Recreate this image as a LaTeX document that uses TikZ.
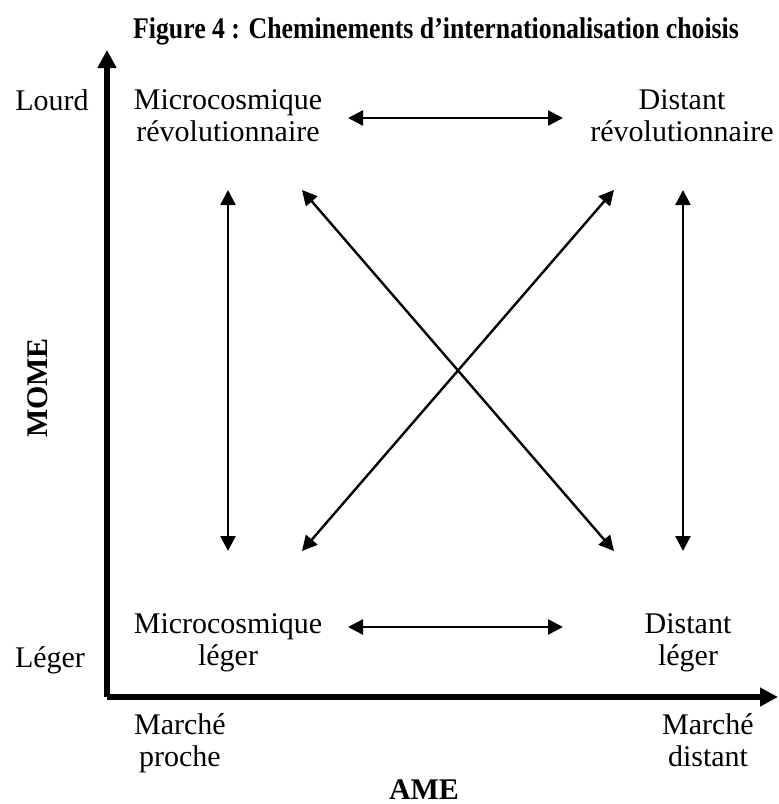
\documentclass[tikz,border=0pt]{standalone}
\usepackage{fontspec}
\setmainfont{Liberation Serif}
\usetikzlibrary{arrows.meta}

\tikzset{
  lab/.style={inner sep=0pt, align=center, font=\fontsize{15}{16}\selectfont},
  gras/.style={inner sep=0pt, font=\fontsize{15}{16}\selectfont\bfseries},
  axe/.style={line width=3pt, -{Triangle[length=9pt,width=9pt]}},
  lien/.style={line width=1.2pt, {Triangle[length=7.5pt,width=7.5pt]}-{Triangle[length=7.5pt,width=7.5pt]}}
}

\begin{document}
\begin{tikzpicture}[x=0.5pt, y=-0.5pt]
\useasboundingbox (0,0) rectangle (778,804);

\node[gras, xscale=0.86, transform shape] (titre) at (436,31) {Figure 4 : Cheminements d’internationalisation choisis};

% axes
\coordinate (o) at (107,697);
\coordinate (haut) at (107,50);
\coordinate (droite) at (778,697);
\draw[axe] (o) -- (haut);
\draw[axe] (o) -- (droite);

\node[lab] (lourd) at (52,100) {Lourd};
\node[lab] (leger) at (50,660) {Léger};
\node[gras, rotate=90] (mome) at (38,388) {MOME};

\node[lab] (mr) at (228,116) {Microcosmique\\révolutionnaire};
\node[lab] (dr) at (682,116) {Distant\\révolutionnaire};
\node[lab] (ml) at (228,643) {Microcosmique\\léger};
\node[lab] (dl) at (688,643) {Distant\\léger};

\node[lab, anchor=north] (mp) at (180,713) {Marché\\proche};
\node[lab, anchor=north] (md) at (708,713) {Marché\\distant};
\node[gras] (ame) at (424,790) {AME};

% extremites des fleches
\coordinate (a1) at (348,118);
\coordinate (a2) at (563,118);
\coordinate (a3) at (348,627);
\coordinate (a4) at (563,627);
\coordinate (b1) at (228,190);
\coordinate (b2) at (228,551);
\coordinate (b3) at (683,190);
\coordinate (b4) at (683,551);
\coordinate (c1) at (302,190);
\coordinate (c2) at (614,551);
\coordinate (c3) at (614,190);
\coordinate (c4) at (302,551);

\begin{scope}[lien]
\foreach \u/\v in {a1/a2, a3/a4, b1/b2, b3/b4, c1/c2, c3/c4}
	\draw (\u) -- (\v);
\end{scope}

\end{tikzpicture}
\end{document}
